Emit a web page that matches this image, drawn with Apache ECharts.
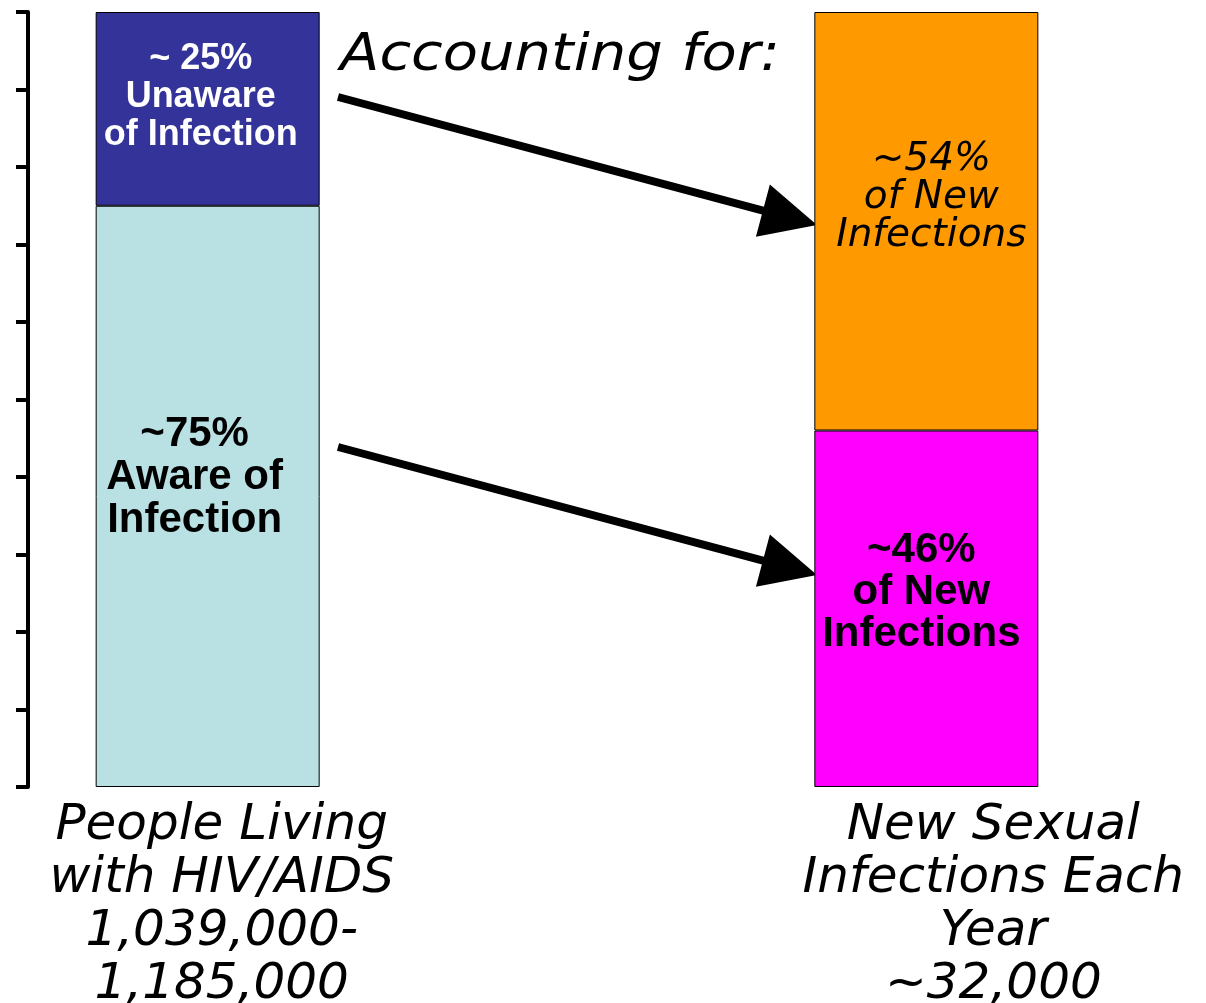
<!DOCTYPE html>
<html>
<head>
<meta charset="utf-8">
<title>HIV awareness and new sexual infections</title>
<script src="https://cdn.jsdelivr.net/npm/echarts@6/dist/echarts.min.js"></script>
<style>
  html, body { margin: 0; padding: 0; background: #fff; }
  #chart { width: 1206px; height: 1003px; }
</style>
</head>
<body>
<div id="chart"></div>
<script>
// --- data ---
const categories = [
  'People Living\nwith HIV/AIDS\n1,039,000-\n1,185,000',
  '',
  'New Sexual\nInfections Each\nYear\n~32,000'
];
const lowerShare = [75, null, 46];   // aware / infections from aware
const upperShare = [25, null, 54];   // unaware / infections from unaware
const lowerText = ['~75%\nAware of\nInfection', '', '~46%\nof New\nInfections'];
const upperText = ['~ 25%\nUnaware\nof Infection', '', '~54%\nof New\nInfections'];
const annotation = 'Accounting for:';

// --- styles ---
const lowerColors = ['#b9e0e3', null, '#ff00ff'];
const upperColors = ['#333399', null, '#ff9900'];
const boldFont = 'Liberation Sans, Arial, sans-serif';
const wideFont = 'DejaVu Sans, Verdana, sans-serif';

const lowerLabels = [
  { color: '#000', fontFamily: boldFont, fontWeight: 'bold', fontSize: 42, lineHeight: 43, offset: [-13, -19] },
  null,
  { color: '#000', fontFamily: boldFont, fontWeight: 'bold', fontSize: 42, lineHeight: 42, offset: [-5, -16] }
];
const upperLabels = [
  { color: '#fff', fontFamily: boldFont, fontWeight: 'bold', fontSize: 36, lineHeight: 38, offset: [-7, -12] },
  null,
  { color: '#000', fontFamily: wideFont, fontStyle: 'italic', fontSize: 39, lineHeight: 38, offset: [5, -23] }
];

const buildData = (values, colors, texts, labels) => values.map((v, i) => {
  if (v == null) return '-';
  return {
    value: v,
    itemStyle: { color: colors[i], borderColor: '#000', borderWidth: 1 },
    label: Object.assign({ show: true, position: 'inside', formatter: texts[i] }, labels[i])
  };
});

// arrow annotation: shaft + triangular head
const arrow = (x0, y0, tx, ty) => {
  const dx = tx - x0, dy = ty - y0;
  const len = Math.sqrt(dx * dx + dy * dy);
  const ux = dx / len, uy = dy / len;
  const headLen = 56, halfW = 27;
  const bx = tx - ux * headLen, by = ty - uy * headLen;
  return [
    { type: 'line', shape: { x1: x0, y1: y0, x2: bx + ux * 4, y2: by + uy * 4 },
      style: { stroke: '#000', lineWidth: 8 } },
    { type: 'polygon',
      shape: { points: [[tx, ty], [bx - uy * halfW, by + ux * halfW], [bx + uy * halfW, by - ux * halfW]] },
      style: { fill: '#000' } }
  ];
};

const chart = echarts.init(document.getElementById('chart'));

const axisFont = { fontFamily: wideFont, fontStyle: 'italic', fontSize: 50, lineHeight: 53, color: '#000' };

const option = {
  animation: false,
  backgroundColor: '#fff',
  grid: { left: 28, right: 100, top: 12, bottom: 216, containLabel: false, outerBoundsMode: 'none' },
  xAxis: {
    type: 'category',
    data: categories,
    axisLine: { show: false },
    axisTick: { show: false },
    axisLabel: {
      interval: 0,
      margin: 13,
      formatter: (value, idx) => {
        if (!value) return '';
        const key = idx === 0 ? 'l' : 'r';
        return value.split('\n').map(s => `{${key}|${s}}`).join('\n');
      },
      rich: {
        l: Object.assign({ padding: [0, 0, 0, 28] }, axisFont),
        r: Object.assign({ padding: [0, 0, 0, 134] }, axisFont)
      }
    }
  },
  yAxis: {
    type: 'value',
    min: 0,
    max: 100,
    interval: 10,
    axisLine: { show: true, lineStyle: { color: '#000', width: 4 } },
    axisTick: { show: true, length: 12, lineStyle: { color: '#000', width: 4 } },
    axisLabel: { show: false },
    splitLine: { show: false }
  },
  series: [
    {
      name: 'lower',
      type: 'bar',
      stack: 'share',
      barWidth: 224,
      data: buildData(lowerShare, lowerColors, lowerText, lowerLabels)
    },
    {
      name: 'upper',
      type: 'bar',
      stack: 'share',
      barWidth: 224,
      data: buildData(upperShare, upperColors, upperText, upperLabels)
    }
  ],
  graphic: [
    {
      type: 'text',
      x: 340,
      y: 31,
      scaleX: 1.13,
      style: {
        text: annotation,
        fill: '#000',
        fontFamily: wideFont,
        fontStyle: 'italic',
        fontSize: 51
      }
    },
    ...arrow(338, 97, 817, 225),
    ...arrow(338, 447, 817, 575)
  ]
};

chart.setOption(option);
</script>
</body>
</html>
